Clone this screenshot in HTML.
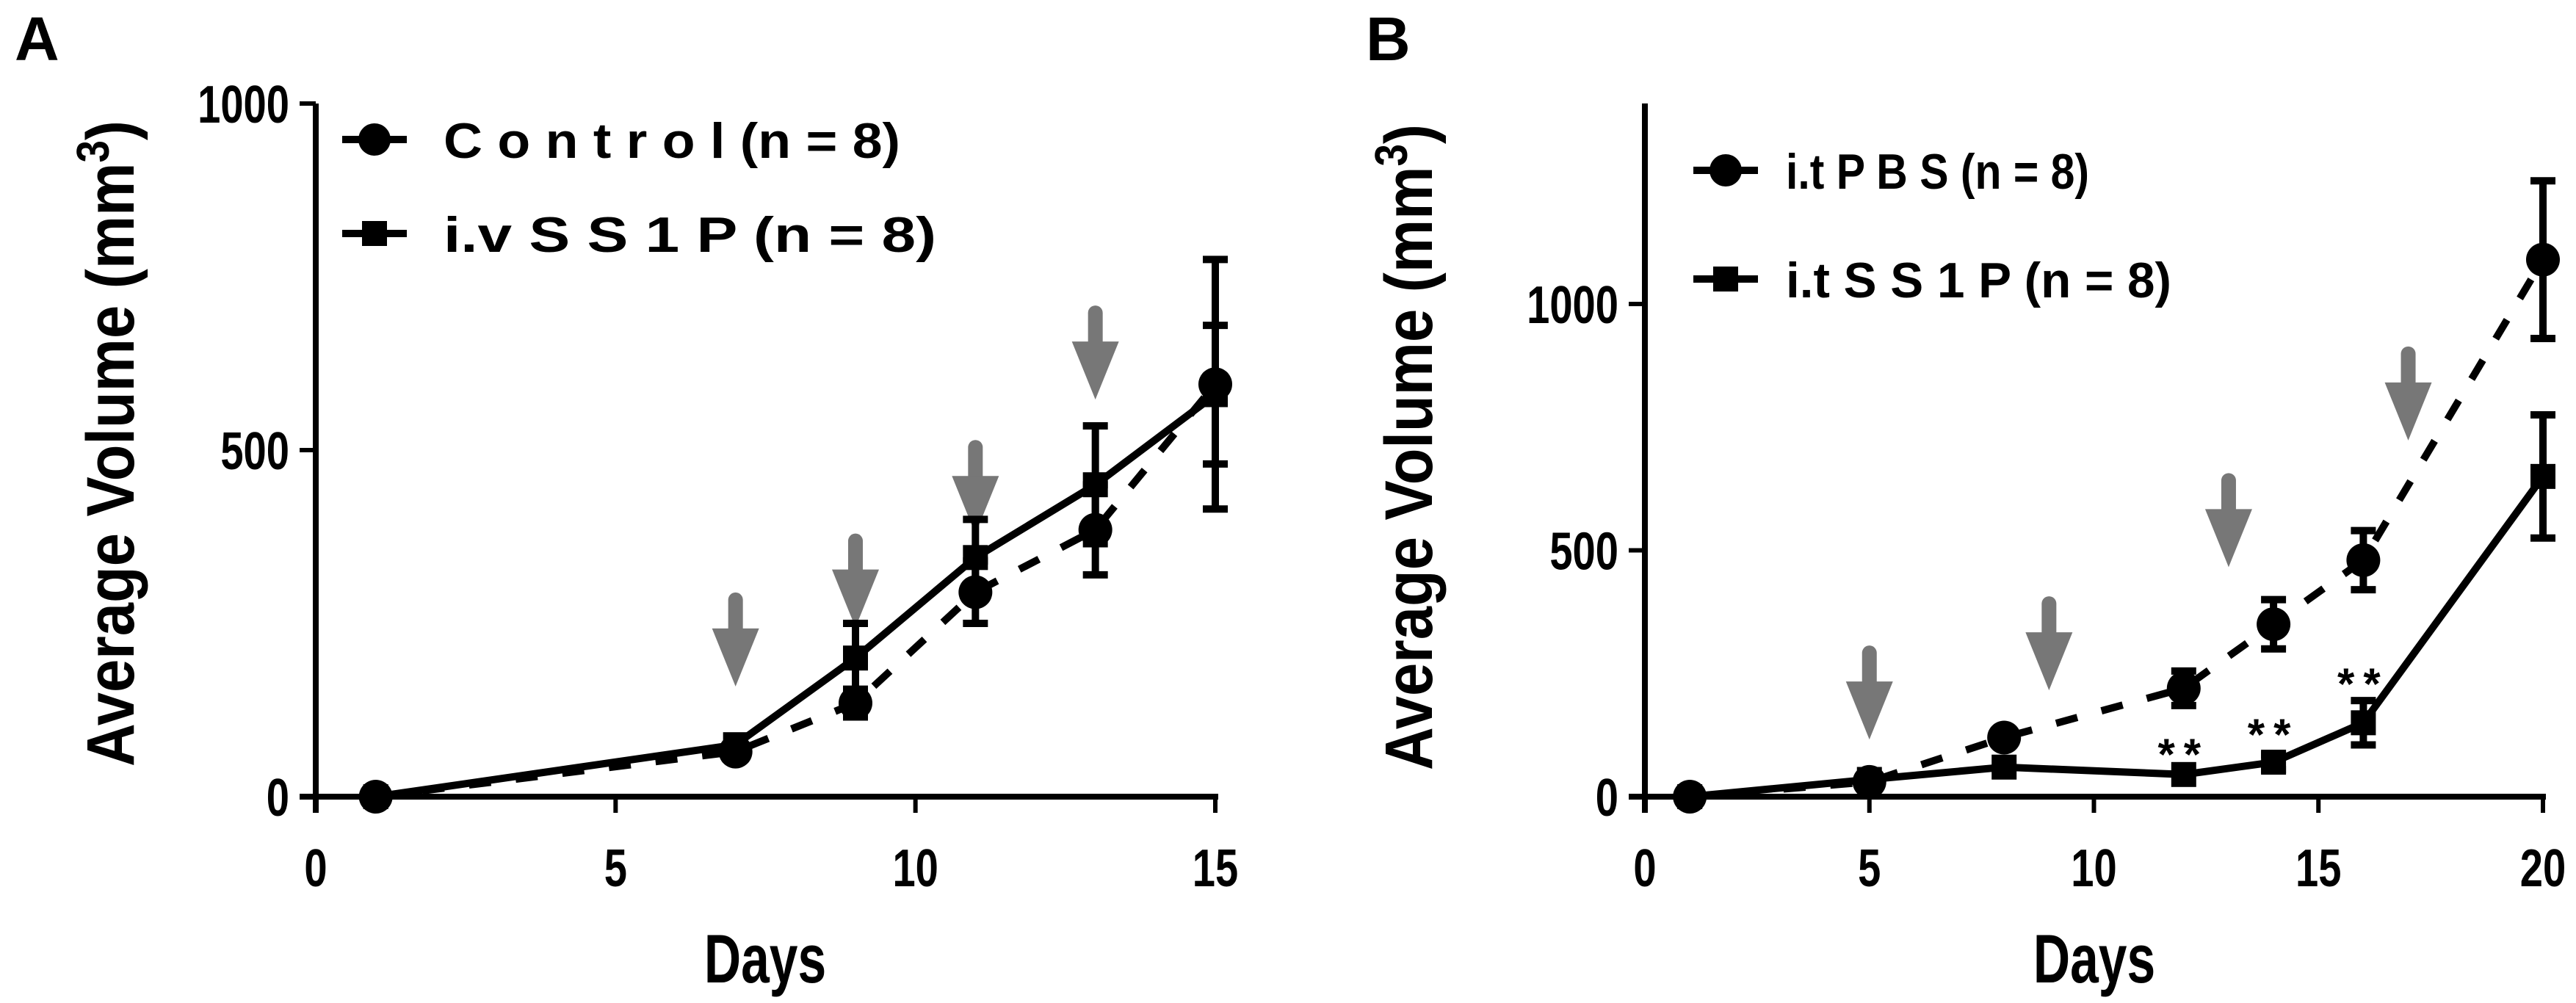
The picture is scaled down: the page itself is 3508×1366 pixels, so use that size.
<!DOCTYPE html>
<html><head><meta charset="utf-8"><style>
html,body{margin:0;padding:0;background:#fff;}
svg{display:block;}
text{font-family:"Liberation Sans Narrow","Liberation Sans",sans-serif;font-weight:bold;fill:#000;}
.leg{font-family:"Liberation Sans",sans-serif;}
</style></head><body>
<svg id="fig" width="3508" height="1366" viewBox="0 0 3508 1366" xmlns="http://www.w3.org/2000/svg"></svg>
<script>
// Panel A data
const daysA = [1, 7, 9, 11, 13, 15];
const controlA = [0, 65, 135, 295, 385, 595];
const controlErrA = [0, 10, 20, 45, 65, 180];
const ss1pA = [0, 75, 200, 345, 450, 580];
const ss1pErrA = [0, 10, 50, 55, 85, 100];
const arrowDaysA = [7, 9, 11, 13];
const arrowTipsA = [159, 244, 379, 573];
const xTicksA = [0, 5, 10, 15];
const yTicksA = [0, 500, 1000];
// Panel B data
const daysB = [1, 5, 8, 12, 14, 16, 20];
const pbsB = [0, 30, 120, 220, 350, 480, 1090];
const pbsErrB = [0, 8, 10, 35, 50, 60, 160];
const ss1pB = [0, 35, 60, 45, 70, 150, 650];
const ss1pErrB = [0, 5, 8, 10, 15, 45, 125];
const arrowDaysB = [5, 9, 13, 17];
const arrowTipsB = [116, 216, 466, 723];
const starDaysB = [12, 14, 16];
const starValsB = [100, 140, 243];
const xTicksB = [0, 5, 10, 15, 20];
const yTicksB = [0, 500, 1000];

const NS = "http://www.w3.org/2000/svg";
const svg = document.getElementById("fig");
function mk(tag, attrs, parent) {
  const e = document.createElementNS(NS, tag);
  for (const k in attrs) e.setAttribute(k, attrs[k]);
  (parent || svg).appendChild(e);
  return e;
}

function panel(cfg) {
  const g = mk("g", {});
  
  
  const sx = d => cfg.x0 + (d - cfg.xmin) * (cfg.x1 - cfg.x0) / (cfg.xmax - cfg.xmin);
  const sy = v => cfg.y0 - v * (cfg.y0 - cfg.y1) / cfg.ymaxTick;

  const ya = mk("line", {x1: cfg.x0, y1: cfg.y0 + 22, x2: cfg.x0, y2: sy(cfg.ymaxAxis), stroke: "#000", "stroke-width": 8}, g);
  
  
  const xa = mk("line", {x1: cfg.x0 - 22, y1: cfg.y0, x2: cfg.x1 + 4, y2: cfg.y0, stroke: "#000", "stroke-width": 8}, g);
  
  
  cfg.xTicks.forEach(t => {
    mk("line", {x1: sx(t), y1: cfg.y0, x2: sx(t), y2: cfg.y0 + 22, stroke: "#000", "stroke-width": 6}, g);
    const tl = mk("text", {transform: `translate(${sx(t)},1207) scale(0.78,1)`, "font-size": 72, "text-anchor": "middle"}, g);
    tl.textContent = t;
    
    
  });
  cfg.yTicks.forEach(t => {
    mk("line", {x1: cfg.x0 - 22, y1: sy(t), x2: cfg.x0, y2: sy(t), stroke: "#000", "stroke-width": 6}, g);
    const tl = mk("text", {transform: `translate(${cfg.x0 - 36},${sy(t) + 26}) scale(0.78,1)`, "font-size": 72, "text-anchor": "end"}, g);
    tl.textContent = t;
    
    
  });
  const xt = mk("text", {transform: `translate(${cfg.daysX},1338) scale(0.74,1)`, "font-size": 94, "text-anchor": "middle"}, g);
  xt.textContent = "Days";
  
  
  const yt = mk("text", {transform: `translate(${cfg.yTitleX},${cfg.yTitleY}) rotate(-90)`, "font-size": 92, "text-anchor": "middle", textLength: 880, lengthAdjust: "spacingAndGlyphs"}, g);
  yt.innerHTML = 'Average Volume (mm<tspan dy="-34" font-size="62">3</tspan><tspan dy="34">)</tspan>';
  
  
  const pl = mk("text", {x: cfg.letterX, y: 82, "font-size": 84, style: "font-family:'Liberation Sans',sans-serif"}, g);
  pl.textContent = cfg.letter;
  
  

  cfg.arrowDays.forEach((d, i) => {
    const x = sx(d), tip = sy(cfg.arrowTips[i]);
    const ag = mk("g", {fill: "#777"}, g);
    
    
    mk("rect", {x: x - 10, y: tip - 128, width: 20, height: 60, rx: 10}, ag);
    mk("polygon", {points: `${x - 32},${tip - 79} ${x + 32},${tip - 79} ${x},${tip}`}, ag);
  });

  cfg.series.forEach(s => {
    const sg = mk("g", {}, g);
    
    
    const pts = cfg.days.map((d, i) => `${sx(d)},${sy(s.vals[i])}`).join(" ");
    const ln = mk("polyline", {points: pts, fill: "none", stroke: "#000", "stroke-width": 10, "stroke-dasharray": s.dashed ? "30 34" : "none"}, sg);
    
    
    cfg.days.forEach((d, i) => {
      const x = sx(d), y = sy(s.vals[i]), e = s.err[i];
      if (e > 12) {
        const eb = mk("path", {d: `M${x},${sy(s.vals[i] - e)}V${sy(s.vals[i] + e)}M${x - 17},${sy(s.vals[i] + e)}H${x + 17}M${x - 17},${sy(s.vals[i] - e)}H${x + 17}`, stroke: "#000", "stroke-width": 10, fill: "none"}, sg);
        
        
      }
      let m;
      if (s.marker === "circle") m = mk("circle", {cx: x, cy: y, r: 23, fill: "#000"}, sg);
      else m = mk("rect", {x: x - 17, y: y - 17, width: 34, height: 34, fill: "#000"}, sg);
      
      
    });
  });

  (cfg.starDays || []).forEach((d, i) => {
    const st = mk("text", {x: sx(d), y: sy(cfg.starVals[i]) + 30, "font-size": 60, "text-anchor": "middle", class: "leg", "letter-spacing": "12"}, g);
    st.textContent = "**";
    
    
  });

  cfg.legend.forEach(l => {
    const lg = mk("g", {}, g);
    
    
    mk("line", {x1: l.lx - 44, y1: l.y, x2: l.lx + 44, y2: l.y, stroke: "#000", "stroke-width": 10}, lg);
    if (l.marker === "circle") mk("circle", {cx: l.lx, cy: l.y, r: 22, fill: "#000"}, lg);
    else mk("rect", {x: l.lx - 17, y: l.y - 17, width: 34, height: 34, fill: "#000"}, lg);
    const t = mk("text", {x: l.tx, y: l.y + 25, "font-size": 68, class: "leg", textLength: l.tw, lengthAdjust: "spacingAndGlyphs"}, lg);
    t.textContent = l.text;
  });
}

panel({name: "panel-a", letter: "A", letterX: 20, x0: 430, x1: 1655, xmin: 0, xmax: 15, y0: 1085, y1: 141, ymaxTick: 1000, ymaxAxis: 1000,
  xTicks: xTicksA, yTicks: yTicksA, days: daysA, daysX: 1042, yTitleX: 182, yTitleY: 604,
  arrowDays: arrowDaysA, arrowTips: arrowTipsA,
  series: [
    {name: "control-series", vals: controlA, err: controlErrA, marker: "circle", dashed: true},
    {name: "iv-ss1p-series", vals: ss1pA, err: ss1pErrA, marker: "square", dashed: false}],
  legend: [
    {lx: 510, y: 190, tx: 604, tw: 622, text: "C o n t r o l  (n = 8)", marker: "circle"},
    {lx: 510, y: 318, tx: 604, tw: 671, text: "i.v  S S 1 P  (n = 8)", marker: "square"}]
});
panel({name: "panel-b", letter: "B", letterX: 1860, x0: 2240, x1: 3463, xmin: 0, xmax: 20, y0: 1085, y1: 414, ymaxTick: 1000, ymaxAxis: 1407,
  xTicks: xTicksB, yTicks: yTicksB, days: daysB, daysX: 2852, yTitleX: 1950, yTitleY: 609,
  arrowDays: arrowDaysB, arrowTips: arrowTipsB, starDays: starDaysB, starVals: starValsB,
  series: [
    {name: "pbs-series", vals: pbsB, err: pbsErrB, marker: "circle", dashed: true},
    {name: "it-ss1p-series", vals: ss1pB, err: ss1pErrB, marker: "square", dashed: false}],
  legend: [
    {lx: 2350, y: 232, tx: 2432, tw: 413, text: "i.t  P B S  (n = 8)", marker: "circle"},
    {lx: 2350, y: 380, tx: 2432, tw: 525, text: "i.t  S S 1 P  (n = 8)", marker: "square"}]
});
</script>
</body></html>
